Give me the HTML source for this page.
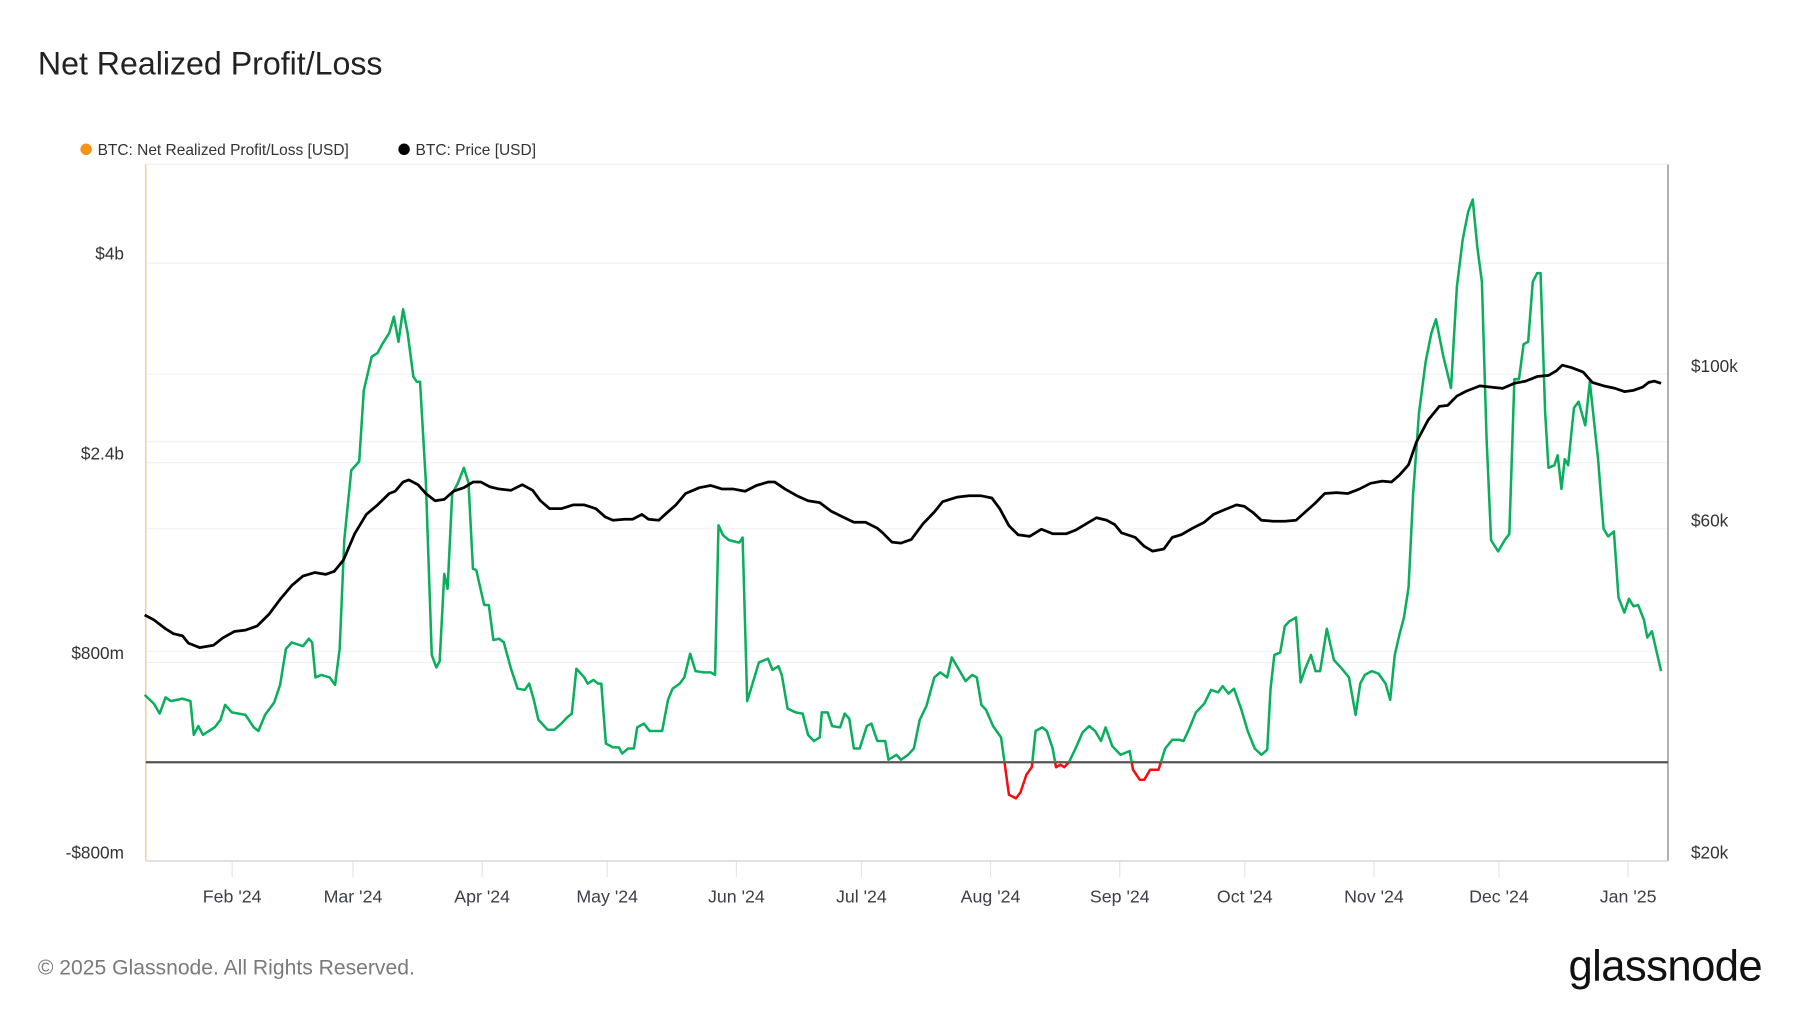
<!DOCTYPE html>
<html><head><meta charset="utf-8"><style>
html,body{margin:0;padding:0;background:#fff;}
svg{display:block;font-family:"Liberation Sans",sans-serif;}
</style></head><body>
<svg id="chart" width="1800" height="1013" viewBox="0 0 1568 882.4" xmlns="http://www.w3.org/2000/svg">
<rect width="1568" height="882.4" fill="#fff"/>
<text x="33" y="65" font-size="28" fill="#222">Net Realized Profit/Loss</text>
<g>
<g><circle cx="75" cy="130" r="5" fill="#f7931a"/><text x="85" y="135" font-size="13.5" fill="#333">BTC: Net Realized Profit/Loss [USD]</text></g>
<g><circle cx="352" cy="130" r="5" fill="#000"/><text x="362" y="135" font-size="13.5" fill="#333">BTC: Price [USD]</text></g>
</g>
<g id="grid"></g>
<g id="axes"></g>
<g id="series"></g>
<text x="33" y="849" font-size="18.4" fill="#7a7a7a">© 2025 Glassnode. All Rights Reserved.</text>
<text x="1535" y="854" text-anchor="end" font-size="38" fill="#111" letter-spacing="-0.5">glassnode</text>
</svg>
<script>
const nrplDays=[0,2.2,3.6,5.0,6.3,9.1,11.0,11.8,12.9,14.0,16.8,18.2,19.3,20.9,24.2,26.2,27.3,28.9,31.1,32.5,33.9,35.3,38.0,39.4,40.2,41.0,42.4,44.4,45.7,46.8,47.9,49.6,51.5,52.6,54.5,55.9,57.0,58.7,59.8,60.9,62.0,63.1,64.5,65.3,66.1,67.5,68.9,70.0,70.8,71.9,72.7,73.8,75.2,76.6,77.7,78.8,79.6,81.5,82.6,83.7,85.1,86.2,87.9,89.5,91.2,92.3,93.4,94.5,96.7,98.3,100.0,101.4,102.5,103.6,105.5,106.3,107.7,108.8,109.6,110.7,112.4,113.8,114.6,116.0,117.4,118.2,119.8,121.2,122.9,124.2,125.6,126.7,128.4,129.5,130.9,132.2,134.2,135.8,136.9,137.7,138.8,140.2,142.7,143.5,144.6,145.7,147.4,149.6,150.7,152.1,152.9,154.3,156.2,157.9,159.2,160.6,162.0,162.5,163.9,165.0,166.9,168.0,169.1,170.2,171.6,173.3,174.4,175.8,177.7,178.5,180.4,181.5,183.2,184.6,186.0,187.6,189.5,190.9,192.6,193.7,195.3,197.0,198.6,199.7,200.8,201.9,203.6,205.5,206.3,207.4,209.1,210.2,211.6,212.9,213.8,215.4,216.5,217.9,218.7,219.8,220.7,221.8,223.4,225.1,226.7,228.1,229.5,230.6,232.2,234.2,236.4,237.2,238.8,239.9,241.3,243.3,244.9,246.6,248.2,249.3,250.7,252.3,254.3,255.9,257.6,258.7,260.1,261.4,263.1,264.7,266.4,268.0,269.4,270.2,271.1,272.5,273.6,274.7,276.3,277.4,278.5,279.9,281.0,282.1,283.7,285.4,287.3,289.0,290.6,291.7,292.8,294.5,296.1,297.8,298.9,300.0,301.1,302.2,303.3,304.4,305.8,307.4,308.8,309.9,311.6,313.5,314.9,316.3,317.6,318.7,319.8,320.9,322.0,323.1,324.8,326.4,327.5,328.7,329.8,330.9,332.0,333.1,334.2,335.0,336.1,336.9,338.3,339.1,340.0,340.8,341.6,343.0,344.1,345.7,346.8,348.8,350.1,351.2,352.6,353.7,355.1,356.2,357.3,358.4,359.8,360.6,361.7,362.8,363.9];
const nrplValues=[0.54,0.47,0.39,0.52,0.49,0.51,0.49,0.22,0.29,0.22,0.28,0.34,0.46,0.40,0.38,0.28,0.25,0.38,0.48,0.62,0.91,0.96,0.93,0.99,0.96,0.68,0.70,0.68,0.62,0.91,1.78,2.34,2.41,2.98,3.25,3.28,3.35,3.44,3.57,3.37,3.63,3.44,3.09,3.05,3.05,2.24,0.86,0.76,0.81,1.51,1.39,2.15,2.24,2.36,2.24,1.55,1.54,1.26,1.26,0.98,0.99,0.96,0.75,0.59,0.58,0.63,0.50,0.34,0.26,0.26,0.31,0.36,0.39,0.75,0.68,0.63,0.66,0.63,0.63,0.15,0.12,0.12,0.07,0.11,0.11,0.28,0.31,0.25,0.25,0.25,0.50,0.59,0.63,0.68,0.87,0.73,0.72,0.72,0.70,1.90,1.82,1.78,1.76,1.80,0.49,0.61,0.80,0.83,0.74,0.77,0.70,0.43,0.40,0.39,0.22,0.17,0.20,0.40,0.40,0.29,0.28,0.39,0.35,0.11,0.11,0.29,0.31,0.17,0.17,0.02,0.06,0.02,0.06,0.11,0.34,0.45,0.68,0.72,0.68,0.84,0.75,0.65,0.70,0.68,0.46,0.42,0.29,0.20,0.01,-0.26,-0.29,-0.24,-0.10,-0.04,0.25,0.28,0.25,0.11,-0.04,-0.02,-0.04,0,0.11,0.24,0.29,0.25,0.17,0.28,0.13,0.06,0.09,-0.06,-0.14,-0.14,-0.06,-0.06,0.11,0.18,0.18,0.17,0.27,0.40,0.47,0.58,0.56,0.61,0.55,0.59,0.43,0.25,0.11,0.06,0.10,0.59,0.86,0.88,1.09,1.13,1.16,0.64,0.75,0.86,0.73,0.73,1.07,0.82,0.75,0.68,0.38,0.63,0.70,0.73,0.71,0.63,0.50,0.86,1.02,1.16,1.40,2.15,2.80,3.21,3.44,3.55,3.26,3.00,3.81,4.19,4.41,4.51,4.13,3.85,2.61,1.78,1.69,1.78,1.83,3.07,3.07,3.35,3.37,3.85,3.92,3.92,2.80,2.36,2.38,2.46,2.19,2.43,2.38,2.84,2.89,2.70,3.05,2.43,1.87,1.81,1.85,1.32,1.20,1.31,1.25,1.26,1.14,1.00,1.05,0.89,0.73];
const priceDays=[0,2.2,5,6.9,9.1,10.5,13.2,16.5,18.7,21.5,24.2,27,29.8,32.5,35.3,38,40.8,43.5,45.5,47.7,50.4,53.2,55.9,58.7,60.1,62,63.4,65.6,67.5,69.7,71.9,74.1,76.6,78.8,80.7,82.9,85.1,87.9,90.6,93.1,95,97.2,100,102.8,105.5,108.3,110.5,112.4,115.2,117.1,119.3,120.9,123.4,125.3,127.5,129.8,133.1,135.8,138.6,141.3,144.1,146.8,149.6,151.2,153.7,156.5,159.2,162,164.7,167.5,170.2,173,175.8,177.1,179.3,181.5,184,186.8,189.5,191.5,195,197.8,200.6,203.3,205.2,207.4,209.6,212.4,215.2,217.9,221.2,223.4,225.6,228.4,230.9,232.8,234.4,237.7,239.9,241.9,244.6,246.6,248.8,251.5,254.3,256.5,259.2,262,263.9,266.1,268,270.8,273.6,276.3,278.5,280.7,283.2,286,288.7,291.5,294.2,297,299.2,301.1,303.3,305.2,308,310.7,312.7,314.9,317.1,320.4,323.1,325.9,328.7,331.4,334.2,336.9,338.8,340.2,342.4,345.2,347.4,350.1,352.9,355.1,357.3,359.5,360.9,362.3,363.9];
const priceValues=[45.1,44.4,43.1,42.4,42.1,41.1,40.5,40.8,41.8,42.7,42.9,43.5,45.2,47.5,49.7,51.3,51.9,51.6,52.1,54.1,59.0,62.9,64.9,67.4,67.9,70.0,70.5,69.4,67.4,65.8,66.1,67.9,68.7,70.0,70.0,68.9,68.4,68.1,69.4,68.1,65.8,64.1,64.1,64.9,64.9,64.1,62.4,61.7,61.9,61.9,62.9,61.9,61.7,63.2,64.9,67.4,68.7,69.2,68.4,68.4,67.9,69.2,70.0,70.0,68.4,66.9,65.8,65.4,63.6,62.4,61.3,61.3,60.1,59.2,57.4,57.2,57.9,61.0,63.4,65.6,66.6,66.9,66.9,66.4,64.1,60.6,58.8,58.5,59.9,59.0,59.0,59.7,60.8,62.2,61.7,60.8,59.2,58.3,56.6,55.7,56.1,58.3,58.8,60.1,61.3,62.9,63.9,64.9,64.6,63.2,61.7,61.5,61.5,61.7,63.4,65.1,67.4,67.6,67.4,68.4,69.7,70.2,70.0,71.6,74.1,79.9,85.9,89.9,90.2,93.0,94.5,96.2,95.8,95.4,97.0,97.7,99.2,99.6,101.1,103.0,102.2,100.7,97.3,96.2,95.4,94.4,94.8,95.8,97.3,97.7,97.0];
const xTickLabels=["Feb '24","Mar '24","Apr '24","May '24","Jun '24","Jul '24","Aug '24","Sep '24","Oct '24","Nov '24","Dec '24","Jan '25"];
const xTickDays=[21,50,81,111,142,172,203,234,264,295,325,356];
const leftTickValues=[-0.8,0.8,2.4,4];
const leftTickLabels=["-$800m","$800m","$2.4b","$4b"];
const rightTickValues=[20,60,100];
const rightTickLabels=["$20k","$60k","$100k"];

const NS="http://www.w3.org/2000/svg";
const PL=127,PR=1453,PT=143,PB=750;
const x=d=>126+d*3.63;
const yL=v=>664-v*108.7;
const yR=p=>750-263.5*Math.log(p/20);
function mk(tag,attrs,parent){const e=document.createElementNS(NS,tag);for(const k in attrs)e.setAttribute(k,attrs[k]);parent.appendChild(e);return e;}
const grid=document.getElementById('grid'),axes=document.getElementById('axes'),series=document.getElementById('series');

leftTickValues.forEach((v,i)=>{
  if(v>-0.8){const l=mk('line',{x1:PL,x2:PR,y1:yL(v),y2:yL(v),stroke:'#efefef','stroke-width':1},grid);
  
  }
  const t=mk('text',{x:108,y:yL(v)-3,'text-anchor':'end','font-size':15,fill:'#333'},axes);
  t.textContent=leftTickLabels[i];
  
  
});
[40,80].concat(rightTickValues).forEach(p=>{
  if(p===20)return;
  const l=mk('line',{x1:PL,x2:PR,y1:yR(p),y2:yR(p),stroke:'#f2f2f2','stroke-width':1},grid);
  
  
});
rightTickValues.forEach((p,i)=>{
  const t=mk('text',{x:1473,y:yR(p)-2,'font-size':15,fill:'#333'},axes);
  t.textContent=rightTickLabels[i];
  
  
});
xTickDays.forEach((d,i)=>{
  const l=mk('line',{x1:x(d),x2:x(d),y1:PB,y2:PB+14,stroke:'#e4e4e4'},axes);
  
  
  const t=mk('text',{x:x(d),y:786,'text-anchor':'middle','font-size':15.5,fill:'#3a3f4a'},axes);
  t.textContent=xTickLabels[i];
  
  
});
const la=mk('line',{x1:PL,x2:PL,y1:PT,y2:PB,stroke:'#f9c88e','stroke-width':1.2},axes);


const ra=mk('line',{x1:PR,x2:PR,y1:PT,y2:PB,stroke:'#777','stroke-width':1},axes);


const ta=mk('line',{x1:PL,x2:PR,y1:PT,y2:PT,stroke:'#eee','stroke-width':1},axes);


const ba=mk('line',{x1:PL,x2:PR,y1:PB,y2:PB,stroke:'#ddd','stroke-width':1.5},axes);


const zl=mk('line',{x1:PL,x2:PR,y1:yL(0),y2:yL(0),stroke:'#555','stroke-width':2},series);



const defs=mk('defs',{},series);
const cpA=mk('clipPath',{id:'above'},defs);mk('rect',{x:0,y:0,width:1568,height:yL(0)},cpA);
const cpB=mk('clipPath',{id:'below'},defs);mk('rect',{x:0,y:yL(0),width:1568,height:300},cpB);
const nd=nrplDays.map((d,i)=>(i?'L':'M')+x(d).toFixed(1)+','+yL(nrplValues[i]).toFixed(1)).join('');
const g1=mk('path',{d:nd,fill:'none',stroke:'#0aae5c','stroke-width':2.2,'stroke-linejoin':'round','clip-path':'url(#above)'},series);


const g2=mk('path',{d:nd,fill:'none',stroke:'#f01010','stroke-width':2.2,'stroke-linejoin':'round','clip-path':'url(#below)'},series);


const pd=priceDays.map((d,i)=>(i?'L':'M')+x(d).toFixed(1)+','+yR(priceValues[i]).toFixed(1)).join('');
const p1=mk('path',{d:pd,fill:'none',stroke:'#000','stroke-width':2.4,'stroke-linejoin':'round'},series);


</script>
</body></html>
